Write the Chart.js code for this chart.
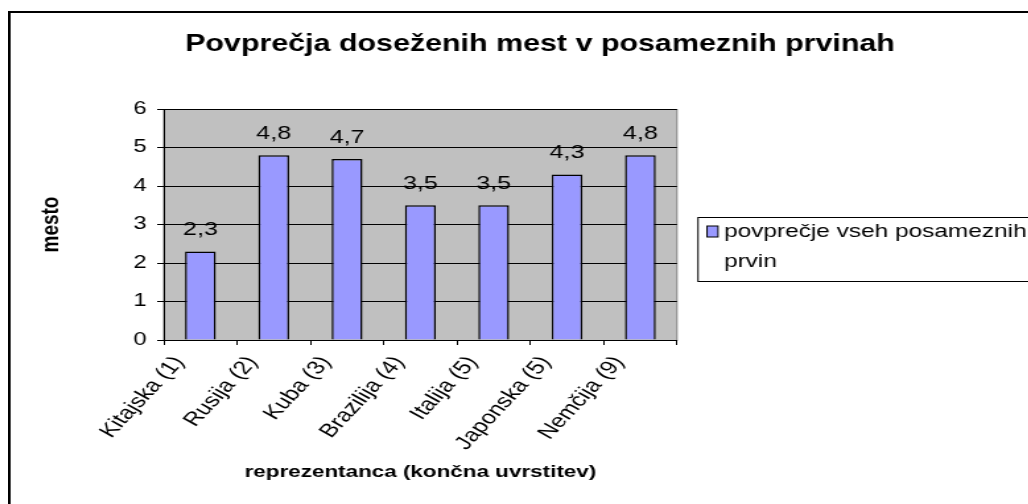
<!DOCTYPE html>
<html>
<head>
<meta charset="utf-8">
<script src="https://cdn.jsdelivr.net/npm/chart.js@4.4.1/dist/chart.umd.min.js"></script>
<style>
  html, body { margin: 0; padding: 0; background: #fff; overflow: hidden; width: 1028px; height: 504px; }
  #c { position: absolute; left: 8px; top: 11px; transform-origin: 0 0; }
</style>
</head>
<body>
<canvas id="c"></canvas>
<script>
// Data
const categories = ['Kitajska (1)', 'Rusija (2)', 'Kuba (3)', 'Brazilija (4)', 'Italija (5)', 'Japonska (5)', 'Nemčija (9)'];
const averages = [2.3, 4.8, 4.7, 3.5, 3.5, 4.3, 4.8];
const yTicks = [0, 1, 2, 3, 4, 5, 6];
const chartTitle = 'Povprečja doseženih mest v posameznih prvinah';
const seriesLabel = 'povprečje vseh posameznih prvin';
const xTitle = 'reprezentanca (končna uvrstitev)';
const yTitle = 'mesto';

// The whole chart is drawn narrow and stretched sideways (wide, flat lettering).
const SX = 1.32;
const W = Math.round(1064 / SX), H = 520;
const px = x => (x - 8) / SX;   // page x -> canvas x
const py = y => y - 11;         // page y -> canvas y
const FONT = '"Liberation Sans", Arial, sans-serif';

const cv = document.getElementById('c');
cv.width = W; cv.height = H;
cv.style.width = W + 'px'; cv.style.height = H + 'px';
cv.style.transform = 'scaleX(' + SX + ')';

Chart.defaults.font.family = FONT;
Chart.defaults.color = '#000';

const fmt = v => v.toFixed(1).replace('.', ',');

const decor = {
  id: 'decor',
  beforeDraw(chart) {
    const { ctx, chartArea: a } = chart;
    ctx.save();
    ctx.fillStyle = '#fff';
    ctx.fillRect(0, 0, W, H);
    ctx.fillStyle = '#C0C0C0';
    ctx.fillRect(a.left, a.top, a.right - a.left, a.bottom - a.top);
    ctx.strokeStyle = '#808080';
    ctx.lineWidth = 1;
    ctx.strokeRect(a.left, a.top + 0.5, a.right - a.left, a.bottom - a.top);
    ctx.restore();
  },
  afterDatasetsDraw(chart) {
    const { ctx } = chart;
    const meta = chart.getDatasetMeta(0);
    ctx.save();
    ctx.font = '19px ' + FONT;
    ctx.fillStyle = '#000';
    ctx.textAlign = 'center';
    ctx.textBaseline = 'alphabetic';
    meta.data.forEach((bar, i) => {
      ctx.fillText(fmt(chart.data.datasets[0].data[i]), bar.x, bar.y - 16);
    });
    ctx.restore();
  },
  afterDraw(chart) {
    const { ctx } = chart;
    const ds = chart.data.datasets[0];
    ctx.save();
    // outer frame
    ctx.strokeStyle = '#000';
    ctx.lineWidth = 2;
    ctx.strokeRect(1, 1, W - 2, H - 2);
    // title (slightly condensed)
    ctx.save();
    ctx.translate(px(540), py(44));
    ctx.scale(0.96, 1);
    ctx.font = 'bold 24px ' + FONT;
    ctx.fillStyle = '#000';
    ctx.textAlign = 'center';
    ctx.textBaseline = 'middle';
    ctx.fillText(chartTitle, 0, 0);
    ctx.restore();
    // legend
    const lx = px(698), ly = py(217), lb = py(281);
    ctx.lineWidth = 1;
    ctx.strokeStyle = '#000';
    ctx.strokeRect(lx, ly + 0.5, W + 10 - lx, lb - ly);
    ctx.font = '18.5px ' + FONT;
    const words = ds.label.split(' ');
    const lines = [];
    let cur = '';
    words.forEach(w => {
      const t = cur ? cur + ' ' + w : w;
      if (ctx.measureText(t).width > 250 && cur) { lines.push(cur); cur = w; } else { cur = t; }
    });
    if (cur) lines.push(cur);
    const sq = 11;
    const sx = px(707), sy = py(226);
    ctx.fillStyle = ds.backgroundColor;
    ctx.fillRect(sx, sy, sq / SX, sq);
    ctx.strokeRect(sx, sy, sq / SX, sq);
    ctx.fillStyle = '#000';
    ctx.textAlign = 'left';
    ctx.textBaseline = 'middle';
    lines.forEach((l, i) => ctx.fillText(l, px(724), py(232) + i * 30));
    ctx.restore();
  }
};

new Chart(cv, {
  type: 'bar',
  data: {
    labels: categories,
    datasets: [{
      label: seriesLabel,
      data: averages,
      backgroundColor: '#9999FF',
      borderColor: '#000',
      borderWidth: 1.5,
      barPercentage: 0.42,
      categoryPercentage: 1
    }]
  },
  options: {
    responsive: false,
    animation: false,
    events: [],
    layout: { padding: { left: 21, right: W - px(677), top: py(109), bottom: H - 472 } },
    plugins: { legend: { display: false }, title: { display: false }, tooltip: { enabled: false } },
    scales: {
      x: {
        offset: true,
        grid: { display: true, drawOnChartArea: false, drawTicks: true, tickLength: 5, offset: true, color: '#000', lineWidth: 1 },
        border: { display: true, color: '#000', width: 1 },
        ticks: { autoSkip: false, minRotation: 54, maxRotation: 54, labelOffset: -16, padding: 7, font: { size: 19 }, color: '#000' },
        title: { display: true, text: xTitle, font: { size: 17, weight: 'bold' }, padding: 0, color: '#000' },
        afterFit: s => { s.height = 143; }
      },
      y: {
        min: 0, max: 6,
        afterBuildTicks: s => { s.ticks = yTicks.map(v => ({ value: v })); },
        ticks: { padding: 8, font: { size: 18 }, color: '#000' },
        grid: { color: '#000', lineWidth: 1, tickLength: 5, drawTicks: true },
        border: { display: true, color: '#000', width: 1 },
        title: { display: true, text: yTitle, font: { size: 19, weight: 'bold' }, padding: 0, color: '#000' },
        afterFit: s => { s.width = 97; }
      }
    }
  },
  plugins: [decor]
});
</script>
</body>
</html>
